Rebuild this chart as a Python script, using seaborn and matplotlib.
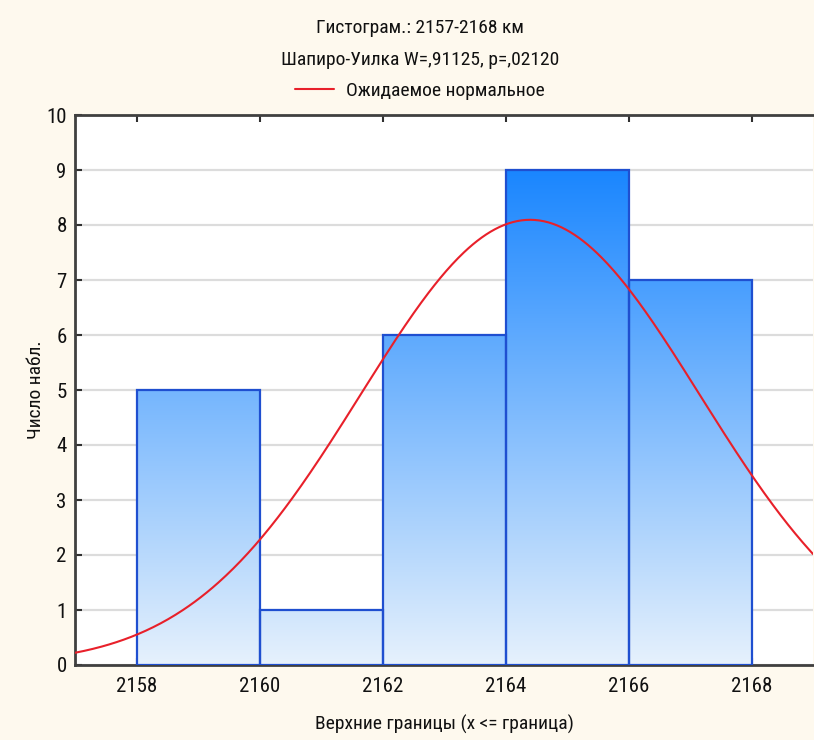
import numpy as np
import pandas as pd
import matplotlib
matplotlib.use("Agg")
import matplotlib.pyplot as plt
import seaborn as sns
from matplotlib.colors import LinearSegmentedColormap
from matplotlib.lines import Line2D

# Histogram data: bin edges (upper bounds) and observation counts
bin_edges = [2158, 2160, 2162, 2164, 2166, 2168]
counts = [5, 1, 6, 9, 7]
x_ticks = [2158, 2160, 2162, 2164, 2166, 2168]
y_ticks = list(range(0, 11))

# Fitted normal distribution parameters
norm_mean = 2164.4
norm_sd = 2.76

title_line1 = "Гистограм.: 2157-2168 км"
title_line2 = "Шапиро-Уилка W=,91125, p=,02120"
legend_label = "Ожидаемое нормальное"
x_label = "Верхние границы (x <= граница)"
y_label = "Число набл."

sns.set_theme(style="white")
plt.rcParams["font.family"] = ["Roboto Condensed", "DejaVu Sans"]

bg = "#FEF9EE"
edge_blue = "#1F4FD0"
fig = plt.figure(figsize=(8.14, 7.40), dpi=100, facecolor=bg)
ax = fig.add_axes([75 / 814, 75 / 740, 738 / 814, 550 / 740])
ax.set_facecolor("white")

# Bars
mids = [(a + b) / 2 for a, b in zip(bin_edges[:-1], bin_edges[1:])]
df = pd.DataFrame({"mid": mids, "count": counts})
sns.histplot(data=df, x="mid", weights="count", bins=bin_edges, ax=ax,
             stat="count", fill=True, facecolor="none", edgecolor=edge_blue,
             linewidth=1.6, zorder=3)

# Vertical gradient fill clipped to each bar
cmap = LinearSegmentedColormap.from_list("bars", ["#E6F1FC", "#1A86FF"])
grad = np.linspace(0, 1, 256).reshape(-1, 1)
for patch in list(ax.patches):
    im = ax.imshow(grad, cmap=cmap, origin="lower", aspect="auto",
                   extent=[2157, 2169, 0, max(counts)], zorder=2,
                   interpolation="bilinear")
    im.set_clip_path(patch)

# Expected normal curve
n_obs = sum(counts)
width = bin_edges[1] - bin_edges[0]
xs = np.linspace(2157, 2169, 500)
ys = n_obs * width * np.exp(-0.5 * ((xs - norm_mean) / norm_sd) ** 2) / (norm_sd * np.sqrt(2 * np.pi))
sns.lineplot(x=xs, y=ys, ax=ax, color="#E8202A", linewidth=1.5, zorder=4)

ax.set_xlim(2157, 2169)
ax.set_ylim(0, 10)
ax.set_xticks(x_ticks)
ax.set_yticks(y_ticks)
ax.yaxis.grid(True, color="#DCDCDC", linewidth=1.6, zorder=0)
ax.set_axisbelow(True)
for s in ["left", "bottom", "top"]:
    ax.spines[s].set_visible(True)
    ax.spines[s].set_color("#404040")
    ax.spines[s].set_linewidth(2)
ax.spines["right"].set_visible(False)
ax.tick_params(axis="both", direction="in", length=5, width=1.5, color="#303030",
               labelsize=15, labelcolor="#111111", top=True, left=True, bottom=True)
ax.tick_params(axis="x", pad=9)
ax.tick_params(axis="y", pad=6)

ax.set_xlabel(x_label, fontsize=14, color="#111111", labelpad=13)
ax.set_ylabel(y_label, fontsize=14, color="#111111", labelpad=1)

# Header lines and legend
cx = 420 / 814
fig.text(cx, 1 - 28 / 740, title_line1, ha="center", va="center", fontsize=14, color="#111111")
fig.text(cx, 1 - 60 / 740, title_line2, ha="center", va="center", fontsize=14, color="#111111")
handle = Line2D([], [], color="#E8202A", linewidth=1.5)
fig.legend(handles=[handle], labels=[legend_label], loc="center",
           bbox_to_anchor=(cx, 1 - 91 / 740), frameon=False, fontsize=14,
           handlelength=2.0, handletextpad=0.6, labelcolor="#111111")

fig.savefig("out.png", dpi=100, facecolor=bg)
